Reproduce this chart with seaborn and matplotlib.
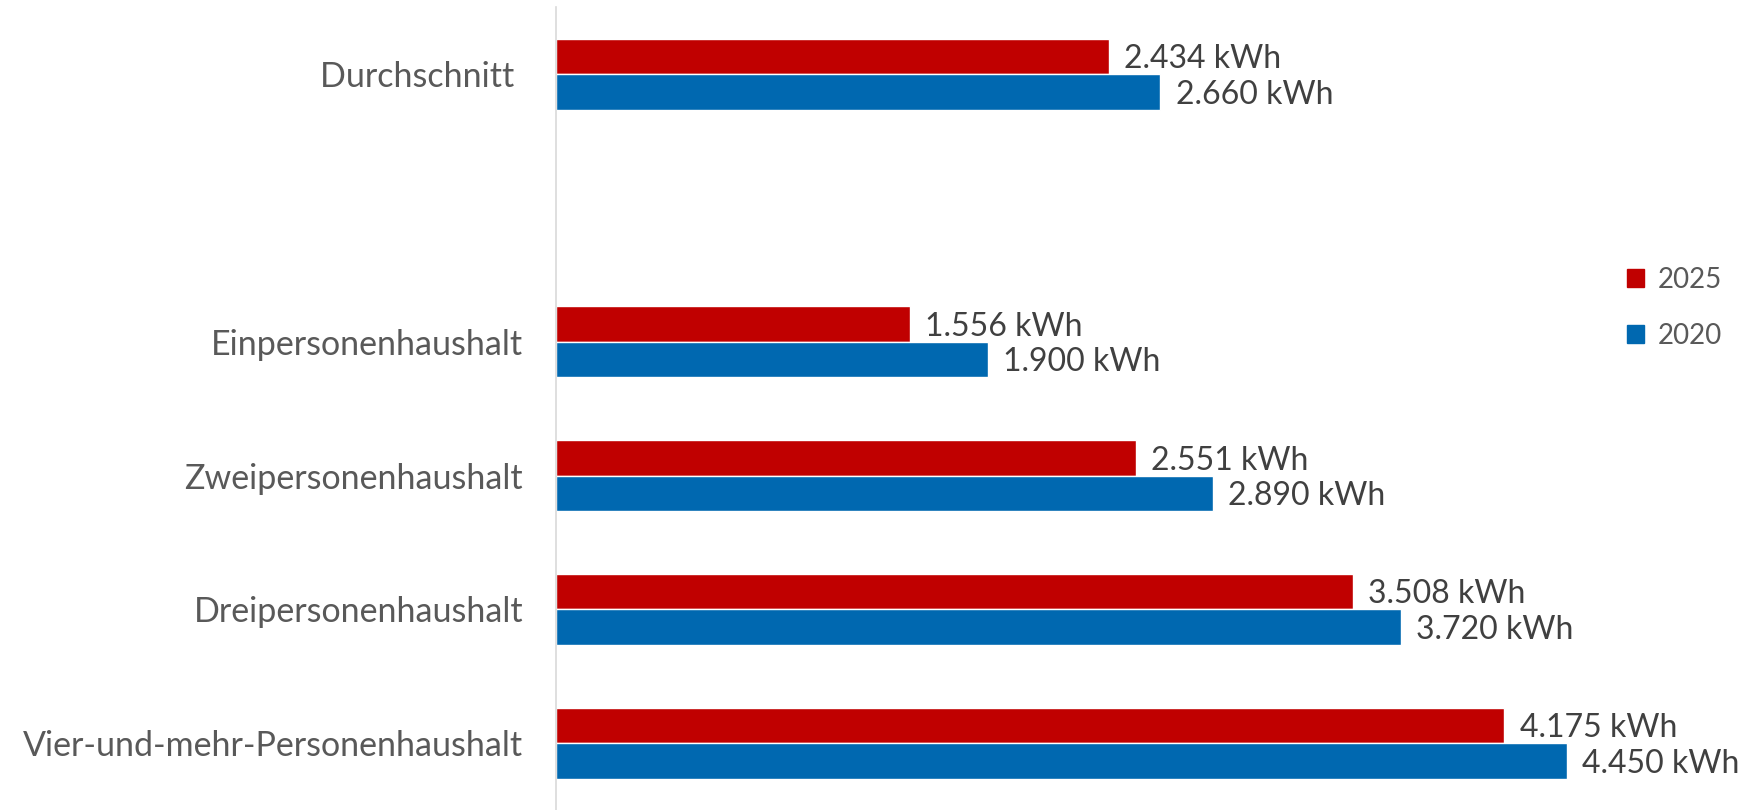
import pandas as pd
import seaborn as sns
import matplotlib.pyplot as plt

# Stromverbrauch nach Haushaltsgröße (kWh pro Jahr)
categories = ["Durchschnitt ", " ", "Einpersonenhaushalt", "Zweipersonenhaushalt",
              "Dreipersonenhaushalt", "Vier-und-mehr-Personenhaushalt"]
values_2025 = [2434, None, 1556, 2551, 3508, 4175]
values_2020 = [2660, None, 1900, 2890, 3720, 4450]
years = ["2025", "2020"]
colors = {"2025": "#C00000", "2020": "#0068B0"}


def main():
    rows = []
    for cat, v25, v20 in zip(categories, values_2025, values_2020):
        rows.append({"Kategorie": cat, "Jahr": "2025", "kWh": v25})
        rows.append({"Kategorie": cat, "Jahr": "2020", "kWh": v20})
    df = pd.DataFrame(rows)

    sns.set_style("white")
    plt.rcParams["font.family"] = ["Lato", "DejaVu Sans"]

    fig = plt.figure(figsize=(17.39, 8.10), dpi=100)
    ax = fig.add_axes([0.32, 0.0, 0.6527, 0.991])

    sns.barplot(data=df, y="Kategorie", x="kWh", hue="Jahr", order=categories,
                hue_order=years, palette=colors, width=0.53, orient="h",
                saturation=1, ax=ax, legend=False)

    ax.set_xlim(0, 5000)
    ax.set_ylim(5.5, -0.5)

    # value labels like "2.434 kWh"
    for container in ax.containers:
        labels = []
        for v in container.datavalues:
            labels.append("" if pd.isna(v) else f"{int(v):,} kWh".replace(",", "."))
        texts = ax.bar_label(container, labels=labels, padding=11, fontsize=23, color="#404040")
        for t in texts:
            t.xyann = (11, -2)

    ax.set_xlabel("")
    ax.set_ylabel("")
    ax.set_xticks([])
    ax.tick_params(axis="y", length=0, pad=24, labelsize=24.5, labelcolor="#595959")
    for side in ["top", "right", "bottom"]:
        ax.spines[side].set_visible(False)
    ax.spines["left"].set_color("#D9D9D9")
    ax.spines["left"].set_linewidth(1.2)

    handles = [plt.Rectangle((0, 0), 1, 1, color=colors[y]) for y in years]
    fig.legend(handles, years, loc="center left", bbox_to_anchor=(0.921, 0.62),
               frameon=False, fontsize=20, labelcolor="#595959",
               handlelength=0.62, handleheight=0.62, handletextpad=0.5,
               labelspacing=1.1)

    fig.savefig("out.png", dpi=100)


if __name__ == "__main__":
    main()
